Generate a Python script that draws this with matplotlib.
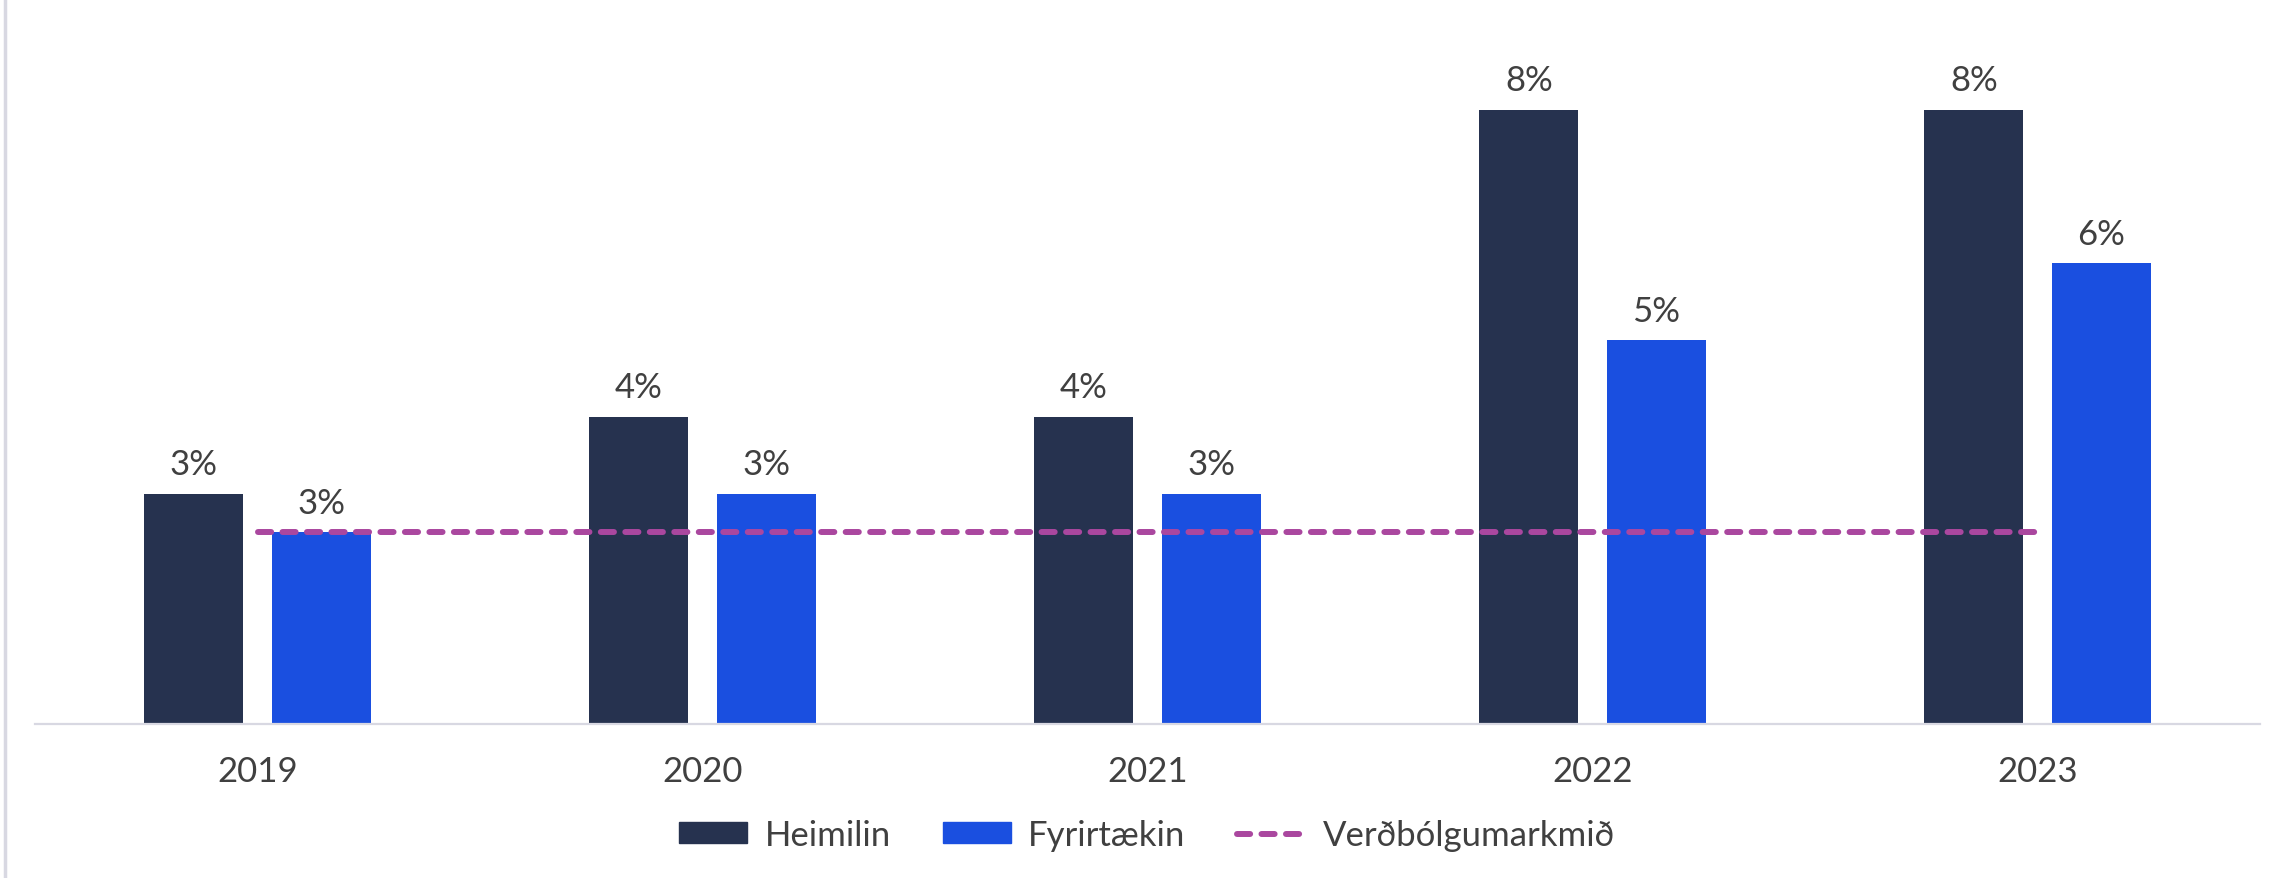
import numpy as np
import matplotlib.pyplot as plt
from matplotlib.lines import Line2D

years = ['2019', '2020', '2021', '2022', '2023']
heimilin = [3.0, 4.0, 4.0, 8.0, 8.0]
fyrirtaekin = [2.5, 3.0, 3.0, 5.0, 6.0]
target = [2.5, 2.5, 2.5, 2.5, 2.5]

DARK = '#26324f'
BLUE = '#1a4fe0'
PURPLE = '#aa479f'
TEXT = '#404040'

plt.rcParams['font.family'] = ['Lato', 'DejaVu Sans']


def pct(v):
    return f"{int(np.floor(v + 0.5))}%"


def plot_chart():
    fig = plt.figure(figsize=(22.8, 8.79), dpi=100)
    ax = fig.add_axes([35 / 2280, 1 - 725 / 879, 2225 / 2280, 725 / 879])

    x = np.arange(len(years))
    w = 0.2225
    off = 0.143
    b1 = ax.bar(x - off, heimilin, w, color=DARK, label='Heimilin')
    b2 = ax.bar(x + off, fyrirtaekin, w, color=BLUE, label='Fyrirtækin')
    ax.plot(x, target, color=PURPLE, linewidth=4.3, dashes=(2.2, 1.9),
            dash_capstyle='round', label='Verðbólgumarkmið')

    for bars, vals in ((b1, heimilin), (b2, fyrirtaekin)):
        for rect, v in zip(bars, vals):
            ax.annotate(pct(v), (rect.get_x() + rect.get_width() / 2, v),
                        xytext=(0, 14), textcoords='offset points',
                        ha='center', va='baseline', fontsize=25, color=TEXT)

    ax.set_xlim(-0.5, 4.5)
    ax.set_ylim(0, 725 / 76.8)
    ax.set_xticks(x)
    ax.set_xticklabels(years, fontsize=25, color=TEXT)
    ax.tick_params(axis='x', length=0, pad=22)
    ax.set_yticks([])
    for s in ('top', 'right', 'left'):
        ax.spines[s].set_visible(False)
    ax.spines['bottom'].set_color('#d8d8e2')
    ax.spines['bottom'].set_linewidth(1.6)

    handles = [
        plt.Rectangle((0, 0), 1, 1, color=DARK),
        plt.Rectangle((0, 0), 1, 1, color=BLUE),
        Line2D([], [], color=PURPLE, linewidth=4.3, dashes=(2.2, 1.9),
               dash_capstyle='round'),
    ]
    leg = fig.legend(handles, ['Heimilin', 'Fyrirtækin', 'Verðbólgumarkmið'],
                     loc='center', bbox_to_anchor=(1147 / 2280, 1 - 836 / 879),
                     ncol=3, frameon=False, fontsize=25, handlelength=1.95,
                     handleheight=0.55, handletextpad=0.5, columnspacing=1.5)
    for t in leg.get_texts():
        t.set_color(TEXT)

    # thin frame line on the left edge
    fig.add_artist(Line2D([5 / 2280, 5 / 2280], [0, 1], color='#d8d8e2',
                          linewidth=2.5, transform=fig.transFigure))

    fig.savefig('out.png', dpi=100, facecolor='white')
    plt.close(fig)


if __name__ == "__main__":
    plot_chart()
